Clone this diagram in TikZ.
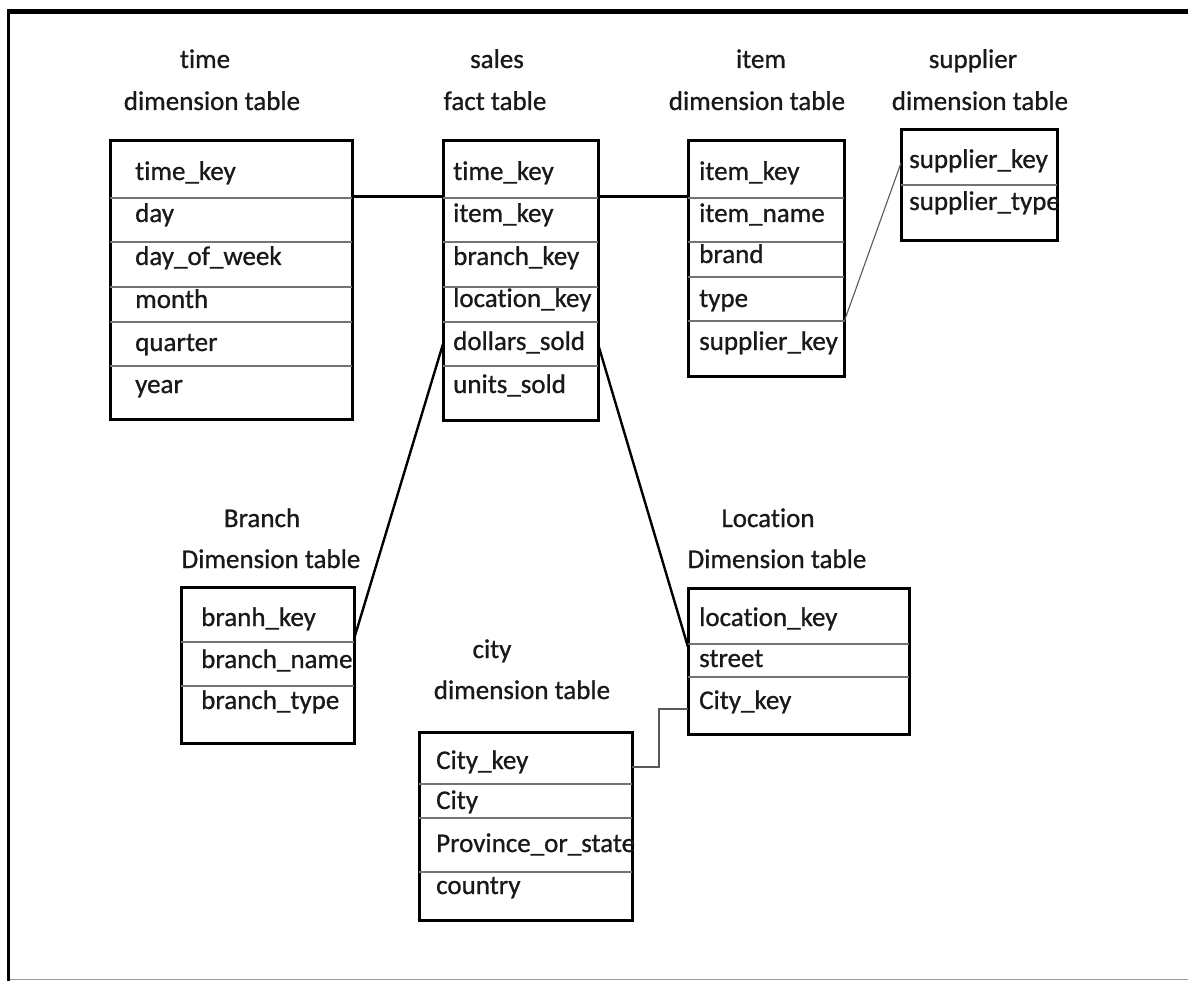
\documentclass[tikz,border=0pt]{standalone}
\usepackage{fontspec}
\setmainfont{Carlito}[Ligatures={NoCommon}, FakeBold=0.8]
\usetikzlibrary{calc}
\begin{document}
\begin{tikzpicture}[x=1pt,y=-1pt,
  tbl/.style={draw=black, line width=3pt, anchor=north west, inner sep=0pt, outer sep=0pt},
  div/.style={draw=black!55, line width=2.4pt},
  txt/.style={anchor=base west, inner sep=0pt, font=\fontsize{27}{32}\selectfont, text=black!90},
  ttl/.style={anchor=base, inner sep=0pt, font=\fontsize{27}{32}\selectfont, text=black!90},
  link/.style={draw=black, line width=3pt},
  thin/.style={draw=black!65, line width=1.1pt},
  mid/.style={draw=black!65, line width=1.8pt}]
\useasboundingbox (0,0) rectangle (1188,981);
\fill[white] (0,0) rectangle (1188,981);
% frame
\coordinate (fTL) at (7,12);
\coordinate (fTR) at (1188,12);
\coordinate (fBL) at (8.5,981);
\coordinate (bL) at (8.5,979.5);
\coordinate (bR) at (1188,979.5);
\draw[black!40, line width=1.5pt] (bL) -- (bR);
\draw[black, line width=3pt] (8.5,10) -- (fBL);
\draw[black, line width=5pt] (fTL) -- (fTR);

% ---------- time ----------
\node[ttl] (timeA) at (205,68) {time};
\node[ttl] (timeB) at (212,110) {dimension table};
\node[tbl, minimum width=242pt, minimum height=278pt] (time) at (110,141) {};
\foreach \y in {198,242,287,322,366} \draw[div] (time.west |- 0,\y) -- (time.east |- 0,\y);
\node[txt] (t1) at (135,180) {time\_key};
\node[txt] (t2) at (135,222) {day};
\node[txt] (t3) at (135,265) {day\_of\_week};
\node[txt] (t4) at (135,308) {month};
\node[txt] (t5) at (135,351) {quarter};
\node[txt] (t6) at (135,393) {year};

% ---------- sales ----------
\node[ttl] (salesA) at (497,68) {sales};
\node[ttl] (salesB) at (495,110) {fact table};
\node[tbl, minimum width=155pt, minimum height=279pt] (sales) at (443,141) {};
\foreach \y in {198,242,287,322,366} \draw[div] (sales.west |- 0,\y) -- (sales.east |- 0,\y);
\node[txt] (s1) at (453,180) {time\_key};
\node[txt] (s2) at (453,222) {item\_key};
\node[txt] (s3) at (453,265) {branch\_key};
\node[txt] (s4) at (453,307) {location\_key};
\node[txt] (s5) at (453,350) {dollars\_sold};
\node[txt] (s6) at (453,393) {units\_sold};

% ---------- item ----------
\node[ttl] (itemA) at (761,68) {item};
\node[ttl] (itemB) at (757,110) {dimension table};
\node[tbl, minimum width=156pt, minimum height=235pt] (item) at (688,141) {};
\foreach \y in {198,242,277,321} \draw[div] (item.west |- 0,\y) -- (item.east |- 0,\y);
\node[txt] (i1) at (699,180) {item\_key};
\node[txt] (i2) at (699,222) {item\_name};
\node[txt] (i3) at (699,263) {brand};
\node[txt] (i4) at (699,307) {type};
\node[txt] (i5) at (699,350) {supplier\_key};

% ---------- supplier ----------
\node[ttl] (supA) at (973,68) {supplier};
\node[ttl] (supB) at (980,110) {dimension table};
\node[tbl, minimum width=156pt, minimum height=111pt] (sup) at (901,130) {};
\draw[div] (sup.west |- 0,185) -- (sup.east |- 0,185);
\node[txt] (p1) at (909,168) {supplier\_key};
\node[txt] (p2) at (909,210) {supplier\_type};

% ---------- branch ----------
\node[ttl] (brA) at (262,527) {Branch};
\node[ttl] (brB) at (271,568) {Dimension table};
\node[tbl, minimum width=173pt, minimum height=156pt] (branch) at (181,587) {};
\foreach \y in {642,686} \draw[div] (branch.west |- 0,\y) -- (branch.east |- 0,\y);
\node[txt] (b1) at (201,626) {branh\_key};
\node[txt] (b2) at (201,668) {branch\_name};
\node[txt] (b3) at (201,709) {branch\_type};

% ---------- location ----------
\node[ttl] (locA) at (768,527) {Location};
\node[ttl] (locB) at (777,568) {Dimension table};
\node[tbl, minimum width=221pt, minimum height=146pt] (loc) at (688,588) {};
\foreach \y in {644,677} \draw[div] (loc.west |- 0,\y) -- (loc.east |- 0,\y);
\node[txt] (l1) at (699,626) {location\_key};
\node[txt] (l2) at (699,667) {street};
\node[txt] (l3) at (699,709) {City\_key};

% ---------- city ----------
\node[ttl] (cityA) at (492,658) {city};
\node[ttl] (cityB) at (522,699) {dimension table};
\node[tbl, minimum width=213pt, minimum height=188pt] (city) at (419,732) {};
\foreach \y in {784,818,872} \draw[div] (city.west |- 0,\y) -- (city.east |- 0,\y);
\node[txt] (c1) at (436,769) {City\_key};
\node[txt] (c2) at (436,809) {City};
\node[txt] (c3) at (436,852) {Province\_or\_state};
\node[txt] (c4) at (436,894) {country};

% ---------- connectors ----------
\draw[link] ($(time.north east)+(0,56)$) -- ($(sales.north west)+(0,56)$);
\draw[link] ($(sales.north east)+(0,56)$) -- ($(item.north west)+(0,56)$);
\draw[thin] ($(item.north east)+(0,181)$) -- ($(sup.north west)+(0,33)$);
\draw[link, line width=2.4pt] ($(sales.north west)+(0,203)$) -- ($(branch.north east)+(0,52)$);
\draw[link, line width=2.4pt] ($(sales.north east)+(0,203)$) -- ($(loc.north west)+(0,59)$);
\coordinate (cbend) at ($(city.north east)+(27,35)$);
\draw[mid] ($(city.north east)+(0,35)$) -- (cbend) |- ($(loc.north west)+(0,121)$);
\end{tikzpicture}
\end{document}
